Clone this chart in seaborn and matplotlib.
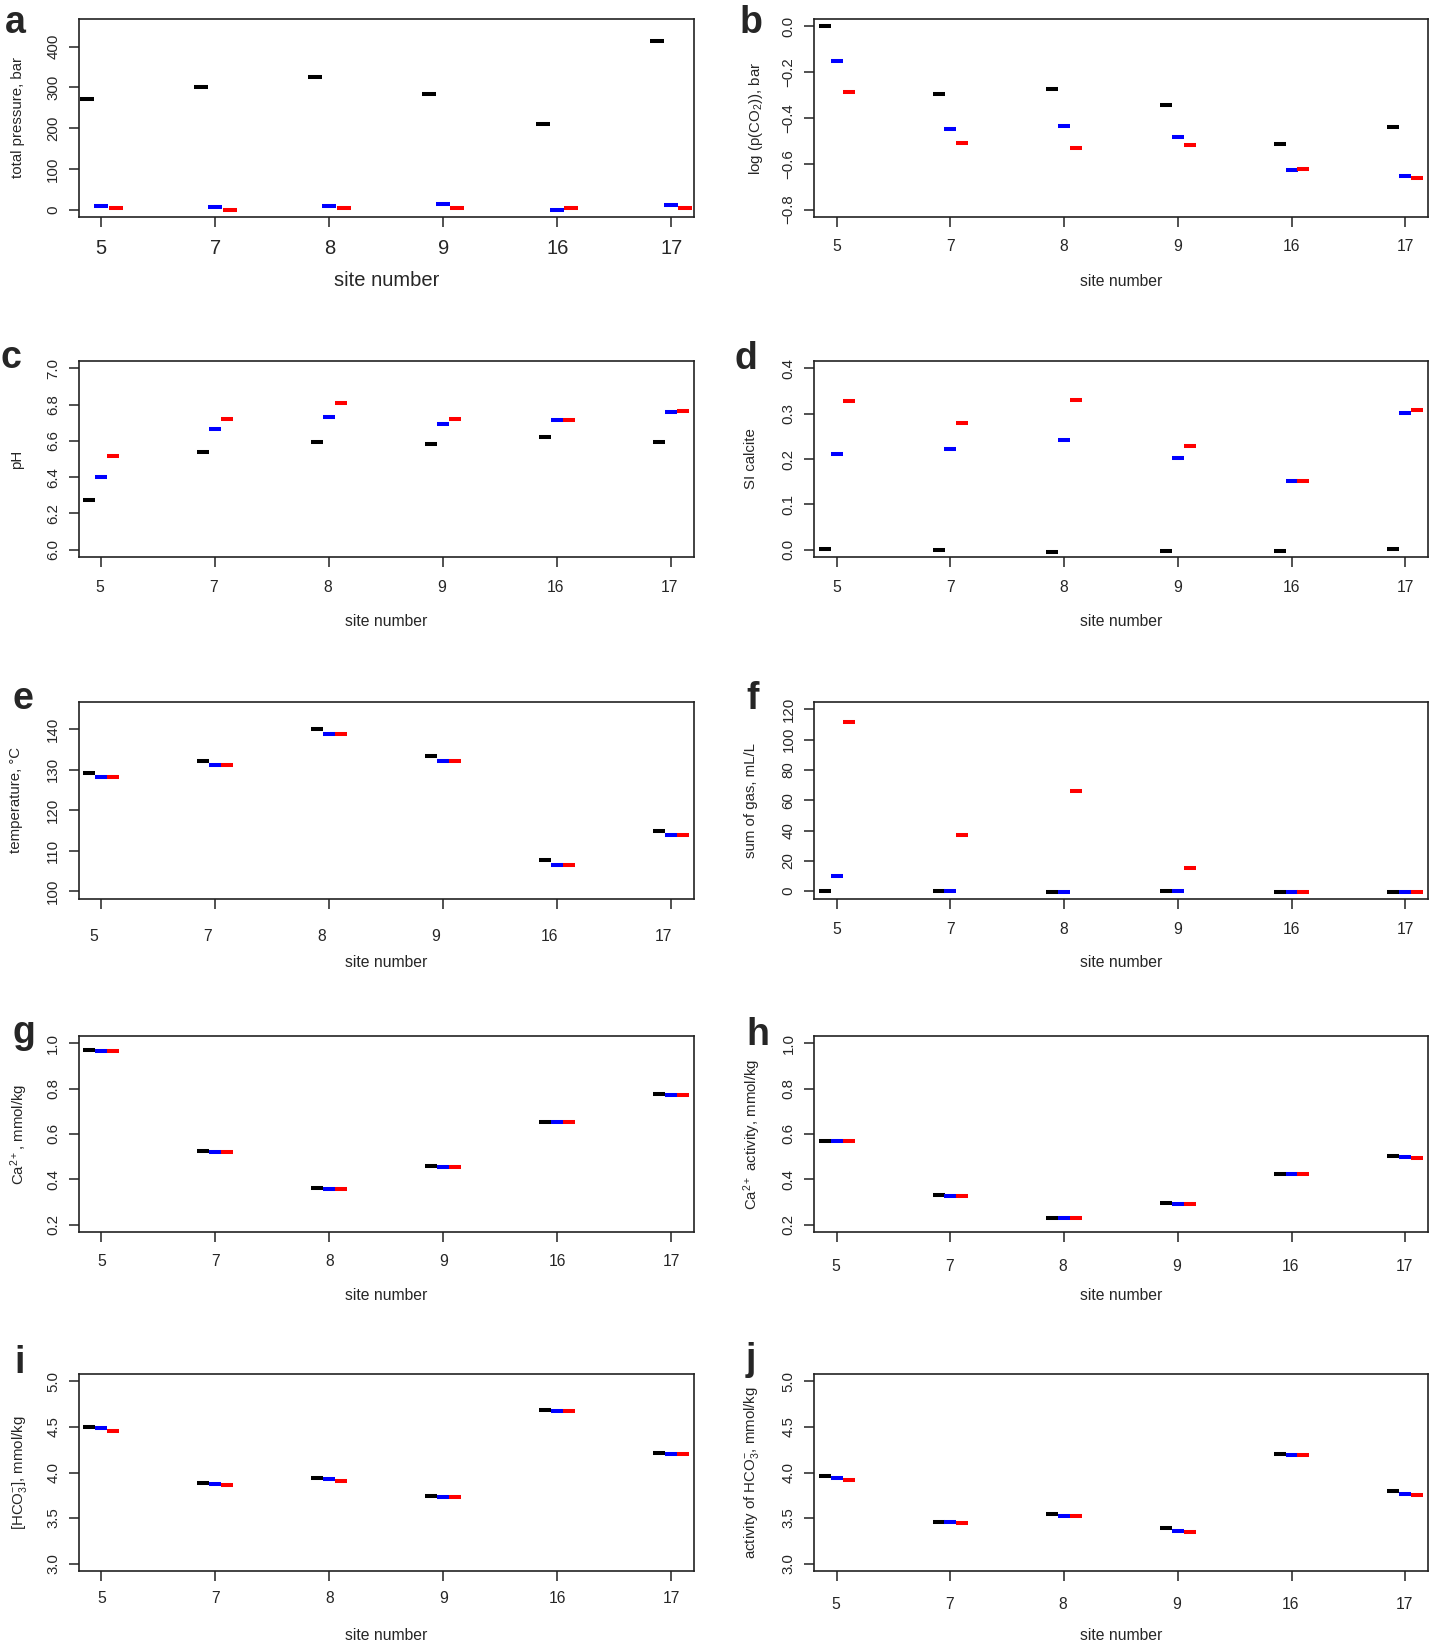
"""
Site-by-site comparison of fluid properties (black / blue / red states)
for the six sampling sites, laid out as a 5 x 2 grid of R-style panels.
"""

import numpy as np
import pandas as pd
import matplotlib
matplotlib.use("Agg")
import matplotlib.pyplot as plt
import matplotlib.transforms as mtransforms
import seaborn as sns

# ---------------------------------------------------------------------------
# Data (each panel: black, blue, red series over the six sites)
# ---------------------------------------------------------------------------

SITES = ["5", "7", "8", "9", "16", "17"]
SERIES_COLORS = ["black", "blue", "red"]

total_pressure = (
    [272, 300, 326, 284, 210, 415],
    [10, 7, 10, 15, 0, 12],
    [3, 0, 3, 3, 3, 3],
)
log_pco2 = (
    [0.0, -0.297, -0.273, -0.345, -0.512, -0.439],
    [-0.152, -0.449, -0.436, -0.484, -0.625, -0.652],
    [-0.287, -0.509, -0.532, -0.519, -0.623, -0.660],
)
ph = (
    [6.276, 6.541, 6.591, 6.580, 6.622, 6.591],
    [6.401, 6.667, 6.729, 6.694, 6.713, 6.757],
    [6.516, 6.718, 6.810, 6.718, 6.713, 6.762],
)
si_calcite = (
    [0.002, 0.0, -0.004, -0.002, -0.002, 0.001],
    [0.210, 0.222, 0.242, 0.202, 0.152, 0.301],
    [0.328, 0.279, 0.329, 0.228, 0.152, 0.309],
)
temperature = (
    [129.3, 132.1, 140.2, 133.4, 107.7, 115.0],
    [128.2, 131.1, 139.0, 132.2, 106.6, 113.9],
    [128.2, 131.1, 139.0, 132.2, 106.6, 113.9],
)
gas_sum = (
    [0.0, 0.3, -0.2, 0.1, -0.4, -0.2],
    [10.1, 0.0, -0.2, 0.1, -0.4, -0.2],
    [111.6, 37.2, 66.3, 15.2, -0.4, -0.2],
)
ca = (
    [0.970, 0.526, 0.364, 0.459, 0.655, 0.775],
    [0.965, 0.521, 0.359, 0.456, 0.652, 0.772],
    [0.965, 0.521, 0.359, 0.456, 0.652, 0.772],
)
ca_activity = (
    [0.570, 0.330, 0.231, 0.296, 0.425, 0.502],
    [0.567, 0.327, 0.228, 0.293, 0.423, 0.498],
    [0.567, 0.327, 0.228, 0.293, 0.423, 0.496],
)
hco3 = (
    [4.504, 3.890, 3.945, 3.746, 4.684, 4.210],
    [4.485, 3.879, 3.926, 3.730, 4.676, 4.199],
    [4.452, 3.864, 3.912, 3.728, 4.676, 4.202],
)
hco3_activity = (
    [3.960, 3.460, 3.544, 3.386, 4.199, 3.794],
    [3.945, 3.456, 3.526, 3.364, 4.188, 3.765],
    [3.923, 3.449, 3.518, 3.353, 4.188, 3.757],
)

# letter, data, y label, y range, y ticks, tick format
PANELS = [
    ("a", total_pressure, "total pressure, bar", (0, 450), [0, 100, 200, 300, 400], "{:.0f}"),
    ("b", log_pco2, "log (p(CO$_2$)), bar", (-0.8, 0.0), [-0.8, -0.6, -0.4, -0.2, 0.0], "{:.1f}"),
    ("c", ph, "pH", (6.0, 7.0), [6.0, 6.2, 6.4, 6.6, 6.8, 7.0], "{:.1f}"),
    ("d", si_calcite, "SI calcite", (0.0, 0.4), [0.0, 0.1, 0.2, 0.3, 0.4], "{:.1f}"),
    ("e", temperature, "temperature, \u00b0C", (100, 145), [100, 110, 120, 130, 140], "{:.0f}"),
    ("f", gas_sum, "sum of gas, mL/L", (0, 120), [0, 20, 40, 60, 80, 100, 120], "{:.0f}"),
    ("g", ca, "Ca$^{2+}$, mmol/kg", (0.2, 1.0), [0.2, 0.4, 0.6, 0.8, 1.0], "{:.1f}"),
    ("h", ca_activity, "Ca$^{2+}$ activity, mmol/kg", (0.2, 1.0), [0.2, 0.4, 0.6, 0.8, 1.0], "{:.1f}"),
    ("i", hco3, "[HCO$_3^{-}$], mmol/kg", (3.0, 5.0), [3.0, 3.5, 4.0, 4.5, 5.0], "{:.1f}"),
    ("j", hco3_activity, "activity of HCO$_3^{-}$, mmol/kg", (3.0, 5.0), [3.0, 3.5, 4.0, 4.5, 5.0], "{:.1f}"),
]

# ---------------------------------------------------------------------------
# Layout (pixels of the 1431 x 1641 canvas)
# ---------------------------------------------------------------------------

W, H, DPI = 1431, 1641, 100
COLS = [(78.5, 694), (814, 1428)]
ROWS = [(19, 217), (361, 557), (702, 898.5), (1036, 1232), (1374, 1571)]
LETTER_POS = [(5, 33), (740, 33), (1, 368), (734, 369), (13, 709),
              (746, 709), (13, 1043), (746, 1045), (14, 1373), (746, 1370)]
XTICK_PAD = [9, 8.5, 9, 9.3, 15, 9.7, 8.3, 12, 7.5, 11.3]
XTICK_SHIFT = [0, 0, -2, 0, -8, 0, 0, -1, 0, -1]
YLABEL_OFF = [60.5, 58, 61, 63, 62, 63, 59, 62, 59, 62]

sns.set_theme(style="ticks")
plt.rcParams["font.family"] = ["Liberation Sans", "DejaVu Sans"]
plt.rcParams["mathtext.fontset"] = "custom"
plt.rcParams["mathtext.rm"] = "Liberation Sans"
plt.rcParams["mathtext.it"] = "Liberation Sans:italic"
plt.rcParams["mathtext.bf"] = "Liberation Sans:bold"
plt.rcParams["mathtext.default"] = "regular"

fig = plt.figure(figsize=(W / DPI, H / DPI), dpi=DPI)
pos = np.arange(1, len(SITES) + 1)
edge = "#222222"

for i, (letter, data, ylabel, (lo, hi), yticks, fmt) in enumerate(PANELS):
    (x0, x1), (y0, y1) = COLS[i % 2], ROWS[i // 2]
    ax = fig.add_axes([x0 / W, 1 - y1 / H, (x1 - x0) / W, (y1 - y0) / H])
    w_px, h_px = x1 - x0, y1 - y0

    # mark width in data units, converted to a marker size in points
    step = 0.125 if letter == "a" else 0.105
    mark_pt = step * w_px / 5.4 * 72 / DPI
    for k, (vals, color) in enumerate(zip(data, SERIES_COLORS)):
        df = pd.DataFrame({"x": pos + (k - 1) * step, "y": vals})
        sns.scatterplot(data=df, x="x", y="y", ax=ax, marker="_",
                        s=mark_pt ** 2, linewidth=2.9, color=color,
                        legend=False, zorder=3 + k)

    ax.set_xlim(0.8, 6.2)
    pad = 0.04 * (hi - lo)
    ax.set_ylim(lo - pad, hi + pad)
    ax.set_xticks(pos, SITES)
    ax.set_yticks(yticks, [fmt.format(t).replace("-", "\u2212") for t in yticks])

    big = letter == "a"
    ax.tick_params(axis="both", direction="out", length=7.2, width=1.1, color=edge)
    ax.tick_params(axis="y", labelrotation=90, pad=6, labelsize=10.8)
    ax.tick_params(axis="x", pad=XTICK_PAD[i], labelsize=14.5 if big else 11.3)
    plt.setp(ax.get_yticklabels(), va="center")
    if XTICK_SHIFT[i]:
        shift = mtransforms.ScaledTranslation(XTICK_SHIFT[i] / DPI, 0, fig.dpi_scale_trans)
        for lbl in ax.get_xticklabels():
            lbl.set_transform(lbl.get_transform() + shift)

    for sp in ax.spines.values():
        sp.set_visible(True)
        sp.set_linewidth(1.2)
        sp.set_color(edge)

    ax.set_xlabel("site number", fontsize=14.5 if big else 11.3, va="center")
    ax.xaxis.set_label_coords(0.5, -64 / h_px)
    ax.set_ylabel(ylabel, fontsize=10.8, va="center")
    ax.yaxis.set_label_coords(-YLABEL_OFF[i] / w_px, 0.5)

    lx, ly = LETTER_POS[i]
    fig.text(lx / W, 1 - ly / H, letter, fontsize=27, fontweight="bold",
             va="baseline", ha="left")

fig.savefig("out.png", dpi=DPI)
